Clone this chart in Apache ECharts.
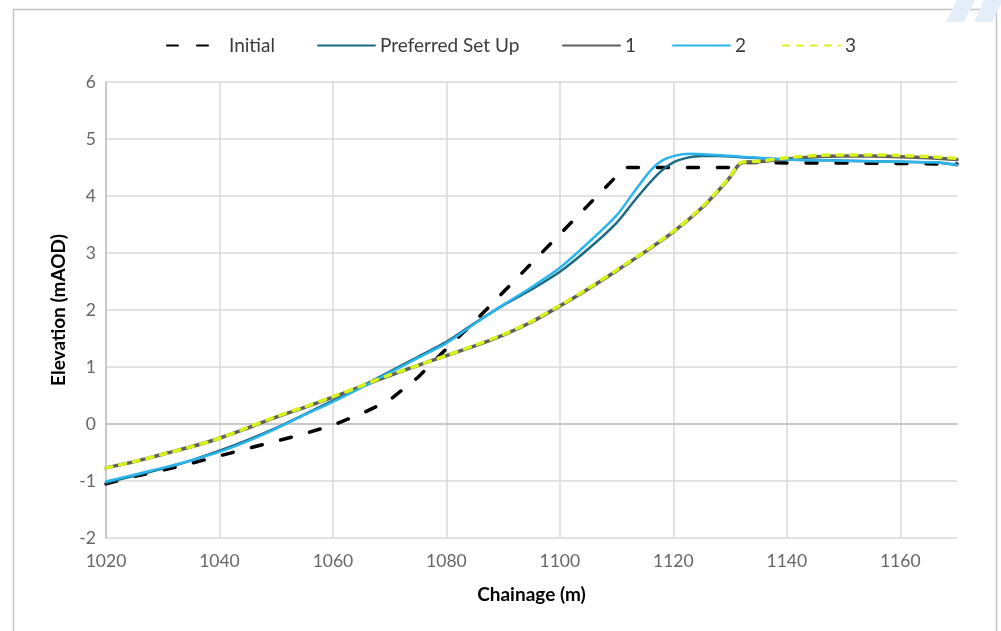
<!DOCTYPE html>
<html>
<head>
<meta charset="utf-8">
<script src="https://cdn.jsdelivr.net/npm/echarts@6/dist/echarts.min.js"></script>
<style>
html,body{margin:0;padding:0;background:#fff;}
#chart{width:1001px;height:631px;}
</style>
</head>
<body>
<div id="chart"></div>
<script>
// ---- data ----
const seriesNames = ['Initial', 'Preferred Set Up', '1', '2', '3'];

const initialCh = [1020,1025,1030,1035,1040,1045,1050,1055,1060,1065,1070,1075,1080,1085,1090,1095,1100,1105,1110,1111.5,1130.5,1132,1140,1150,1160,1170];
const initialEl = [-1.05,-0.92,-0.81,-0.69,-0.56,-0.43,-0.30,-0.17,-0.02,0.18,0.42,0.82,1.32,1.80,2.31,2.82,3.33,3.84,4.35,4.50,4.50,4.59,4.58,4.58,4.57,4.56];

const preferredCh = [1020,1025,1030,1035,1040,1045,1050,1055,1060,1065,1070,1075,1080,1085,1090,1095,1100,1105,1110,1113,1116,1118,1120,1122,1125,1128,1132,1140,1150,1160,1166,1170];
const preferredEl = [-1.03,-0.91,-0.78,-0.64,-0.47,-0.28,-0.07,0.17,0.41,0.66,0.92,1.18,1.44,1.77,2.08,2.36,2.67,3.07,3.53,3.90,4.25,4.45,4.59,4.66,4.70,4.70,4.68,4.64,4.62,4.60,4.59,4.54];

const s1Ch = [1020,1025,1030,1035,1040,1045,1050,1055,1060,1065,1070,1075,1080,1085,1090,1095,1100,1105,1110,1115,1120,1125,1128,1130,1132,1135,1140,1145,1150,1155,1160,1165,1170];
const s1El = [-0.77,-0.66,-0.53,-0.40,-0.25,-0.07,0.12,0.29,0.47,0.66,0.85,1.03,1.20,1.37,1.56,1.79,2.07,2.37,2.69,3.02,3.37,3.79,4.10,4.33,4.58,4.60,4.65,4.69,4.70,4.70,4.69,4.67,4.64];

const s2Ch = [1020,1025,1030,1035,1040,1045,1050,1055,1060,1065,1070,1075,1080,1085,1090,1095,1100,1105,1110,1113,1116,1118,1120,1123,1126,1129,1132,1140,1150,1160,1166,1170];
const s2El = [-1.01,-0.89,-0.77,-0.64,-0.49,-0.30,-0.08,0.16,0.39,0.64,0.90,1.16,1.42,1.76,2.09,2.40,2.74,3.18,3.66,4.06,4.45,4.62,4.70,4.74,4.73,4.71,4.69,4.64,4.62,4.60,4.59,4.55];

const s3Ch = [1020,1025,1030,1035,1040,1045,1050,1055,1060,1065,1070,1075,1080,1085,1090,1095,1100,1105,1110,1115,1120,1125,1128,1130,1132,1135,1140,1145,1150,1155,1160,1165,1170];
const s3El = [-0.77,-0.66,-0.53,-0.40,-0.25,-0.06,0.13,0.30,0.48,0.67,0.86,1.03,1.20,1.38,1.57,1.80,2.08,2.38,2.70,3.03,3.38,3.80,4.11,4.34,4.59,4.61,4.67,4.71,4.72,4.72,4.71,4.69,4.66];

const xTickMin = 1020, xTickMax = 1170, xTickStep = 20;
const yTickMin = -2, yTickMax = 6, yTickStep = 1;

// ---- chart ----
const pair = (xs, ys) => xs.map((x, i) => [x, ys[i]]);
const FONT = 'Lato, "Open Sans", sans-serif';

const chart = echarts.init(document.getElementById('chart'), null, {renderer: 'canvas'});

const legendLefts = [166, 317, 562, 672, 782];

const option = {
  animation: false,
  backgroundColor: '#ffffff',
  grid: {left: 106, right: 44, top: 82, bottom: 93, containLabel: false},
  legend: seriesNames.map((n, i) => ({
    data: [n],
    left: legendLefts[i],
    top: 36,
    itemWidth: 57,
    itemHeight: 14,
    itemGap: 0,
    padding: 0,
    selectedMode: false,
    itemStyle: {opacity: 0},
    textStyle: {fontFamily: FONT, fontSize: 19, color: '#3a3a3a'}
  })),
  xAxis: {
    type: 'value',
    min: xTickMin, max: xTickMax, interval: xTickStep,
    name: 'Chainage (m)',
    nameLocation: 'middle',
    nameGap: 47,
    nameTextStyle: {fontFamily: FONT, fontSize: 19, fontWeight: 'bold', color: '#000'},
    axisLine: {show: true, lineStyle: {color: '#bfbfbf', width: 1.5}},
    axisTick: {show: false},
    axisLabel: {fontFamily: FONT, fontSize: 17.5, color: '#666', margin: 14, showMaxLabel: false,
                formatter: v => String(v)},
    splitLine: {show: true, showMaxLine: false, lineStyle: {color: '#d9d9d9', width: 1.5}}
  },
  yAxis: {
    type: 'value',
    min: yTickMin, max: yTickMax, interval: yTickStep,
    name: 'Elevation (mAOD)',
    nameLocation: 'middle',
    nameGap: 38,
    nameTextStyle: {fontFamily: FONT, fontSize: 19, fontWeight: 'bold', color: '#000'},
    axisLine: {show: true, lineStyle: {color: '#bfbfbf', width: 1.5}},
    axisTick: {show: false},
    axisLabel: {fontFamily: FONT, fontSize: 17.5, color: '#666', margin: 10, formatter: v => String(v)},
    splitLine: {show: true, lineStyle: {color: '#d9d9d9', width: 1.5}}
  },
  graphic: [
    {type: 'rect', silent: true, z: -10,
     shape: {x: 13.5, y: 9.5, width: 983, height: 700},
     style: {fill: 'none', stroke: '#c4c4c4', lineWidth: 1.5}},
    {type: 'polygon', silent: true, z: 10,
     shape: {points: [[957,0],[975,0],[964,22],[946,22]]},
     style: {fill: '#e3eef9'}},
    {type: 'polygon', silent: true, z: 10,
     shape: {points: [[984,0],[1001,0],[1001,4],[992,22],[974,22]]},
     style: {fill: '#e3eef9'}}
  ],
  series: [
    {name: 'Initial', type: 'line', data: pair(initialCh, initialEl), symbol: 'none', smooth: false,
     lineStyle: {color: '#000000', width: 3.5, type: [11, 19], cap: 'round', join: 'round'},
     itemStyle: {color: '#000000'}, emphasis: {disabled: true}, z: 2},
    {name: 'Preferred Set Up', type: 'line', data: pair(preferredCh, preferredEl), symbol: 'none', smooth: 0.3,
     lineStyle: {color: '#1b6b82', width: 2.5, cap: 'round', join: 'round'},
     itemStyle: {color: '#1b6b82'}, emphasis: {disabled: true}, z: 3},
    {name: '1', type: 'line', data: pair(s1Ch, s1El), symbol: 'none', smooth: 0.3,
     lineStyle: {color: '#5f5f5f', width: 3.5, cap: 'round', join: 'round'},
     itemStyle: {color: '#5f5f5f'}, emphasis: {disabled: true}, z: 4},
    {name: '2', type: 'line', data: pair(s2Ch, s2El), symbol: 'none', smooth: 0.3,
     lineStyle: {color: '#2bb5ec', width: 2.5, cap: 'round', join: 'round'},
     itemStyle: {color: '#2bb5ec'}, emphasis: {disabled: true}, z: 5},
    {name: '3', type: 'line', data: pair(s3Ch, s3El), symbol: 'none', smooth: 0.3,
     lineStyle: {color: '#d8f21c', width: 3.5, type: [6, 8], cap: 'round', join: 'round'},
     itemStyle: {color: '#d8f21c'}, emphasis: {disabled: true}, z: 6}
  ]
};

chart.setOption(option);
</script>
</body>
</html>
